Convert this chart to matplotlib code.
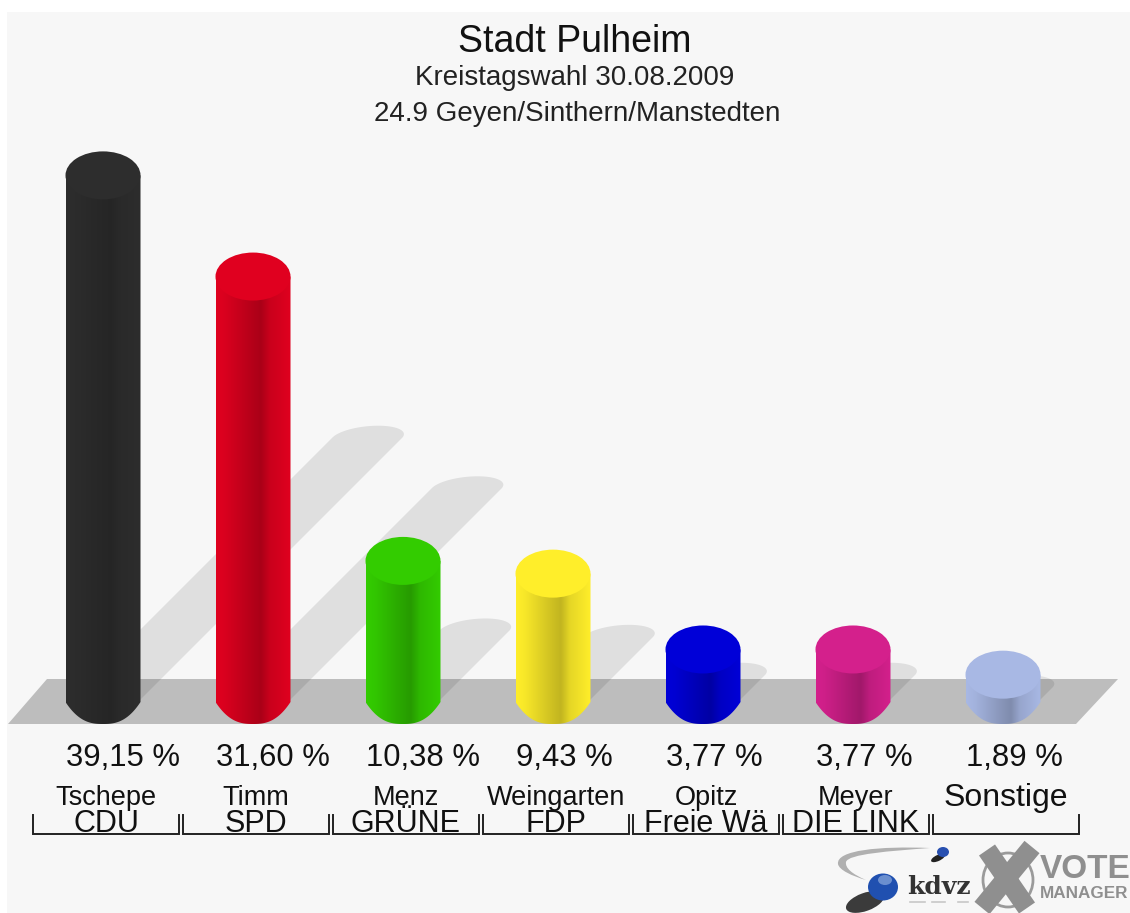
#!/usr/bin/env python3
import numpy as np
import matplotlib
matplotlib.use("Agg")
import matplotlib.pyplot as plt
from matplotlib.colors import to_rgb
from matplotlib.patches import Ellipse, Polygon, Rectangle, PathPatch
from matplotlib.path import Path

# Data
candidates = ["Tschepe", "Timm", "Menz", "Weingarten", "Opitz", "Meyer", "Sonstige"]
parties = ["CDU", "SPD", "GRÜNE", "FDP", "Freie Wä", "DIE LINK", ""]
shares = [39.15, 31.60, 10.38, 9.43, 3.77, 3.77, 1.89]
share_labels = ["39,15 %", "31,60 %", "10,38 %", "9,43 %", "3,77 %", "3,77 %", "1,89 %"]
colors = ["#2d2d2d", "#e0001f", "#33cc00", "#ffee2a", "#0000d8", "#d4208c", "#a8b8e4"]

BG = "#f7f7f7"
FLOOR = "#bdbdbd"
W, H = 1130, 913
BASE_Y = 700      # pixel row of the bar base centre
PX_PER_PCT = 13.4
X0, DX = 103, 150  # first bar centre, bar spacing in pixels
BAR_W, CAP_H = 75, 48


def ellipse_points(cx, cy, w, h, shear=0.0):
    t = np.linspace(0, 2 * np.pi, 80)
    ex = w / 2 * np.cos(t)
    ey = h / 2 * np.sin(t)
    return np.column_stack([cx + ex + shear * ey, cy + ey])


def hull(points):
    # Monotone chain, for the shape swept by the shadow ellipse
    pts = sorted(map(tuple, points))
    def half(seq):
        out = []
        for p in seq:
            while len(out) > 1 and ((out[-1][0] - out[-2][0]) * (p[1] - out[-2][1])
                                    - (out[-1][1] - out[-2][1]) * (p[0] - out[-2][0])) <= 0:
                out.pop()
            out.append(p)
        return out[:-1]
    return np.array(half(pts) + half(pts[::-1]))


def draw_shadow(ax, cx, height):
    rise = height * 0.5
    run = rise * 1.0
    a = ellipse_points(cx + 2, BASE_Y, 70, 24, shear=-0.9)
    b = ellipse_points(cx + 2 + run, BASE_Y - rise, 70, 24, shear=-0.9)
    ax.add_patch(Polygon(hull(np.vstack([a, b])), closed=True, fc="black", ec="none",
                         alpha=0.095, zorder=2))


def draw_bar(ax, cx, height, color):
    top = BASE_Y - height
    left, right = cx - BAR_W / 2, cx + BAR_W / 2
    rgb = np.array(to_rgb(color))

    # Body outline: straight sides with a slightly pointed bottom
    u = np.linspace(1, -1, 80)
    bottom = np.column_stack([cx + BAR_W / 2 * u, BASE_Y + 2 + (CAP_H / 2 - 2) * (1 - np.abs(u) ** 2.6)])
    body = np.vstack([[[right, top]], bottom, [[left, top]]])
    clip = Polygon(body, closed=True, transform=ax.transData)

    # Horizontal shading, darkest just past the middle of the bar
    s = np.linspace(0, 1, 150)
    shade = np.interp(s, [0, 0.12, 0.5, 0.6, 0.72, 1], [1.0, 0.97, 0.80, 0.76, 0.90, 1.0])
    if color == "#2d2d2d":
        shade = 1 - (1 - shade) * 0.7
    grad = (rgb[None, :] * shade[:, None])[None, :, :]
    img = ax.imshow(grad, extent=(left, right, BASE_Y + CAP_H / 2, top), aspect="auto",
                    interpolation="bilinear", zorder=3)
    img.set_clip_path(clip)

    # Flat top cap
    ax.add_patch(Ellipse((cx, top), BAR_W, CAP_H, fc=color, ec="none", zorder=4))


def draw_logos(ax):
    # kdvz swoosh
    swoosh = Path([(930, 848), (880, 846), (836, 850), (838, 864), (839, 870), (852, 876), (866, 880),
                   (852, 874), (845, 868), (846, 862), (848, 854), (890, 851), (930, 848)],
                  [Path.MOVETO] + [Path.CURVE4] * 12)
    ax.add_patch(PathPatch(swoosh, fc="#b0b0b0", ec="none", zorder=5))
    # small and large ball, with their dark shadows
    ax.add_patch(Ellipse((938, 858), 15, 6, angle=-25, fc="#222222", ec="none", zorder=5))
    ax.add_patch(Ellipse((943, 852), 12, 10, fc="#2850b0", ec="none", zorder=6))
    ax.add_patch(Ellipse((865, 902), 40, 18, angle=-20, fc="#1a1a1a", ec="none", alpha=0.85, zorder=5))
    ax.add_patch(Ellipse((883, 887), 30, 27, fc="#2050b0", ec="none", zorder=6))
    ax.add_patch(Ellipse((885, 880), 14, 10, fc="#7f9fd8", ec="none", alpha=0.8, zorder=7))
    ax.text(939, 887, "kdvz", family="DejaVu Serif", weight="bold", fontsize=18,
            color="#333333", ha="center", va="center", zorder=6)
    ax.plot([910, 925], [902, 902], color="#c8c8c8", lw=1.2, zorder=6)
    ax.plot([932, 945], [902, 902], color="#c8c8c8", lw=1.2, zorder=6)
    ax.plot([958, 968], [902, 902], color="#c8c8c8", lw=1.2, zorder=6)
    # Cross mark
    ax.add_patch(Ellipse((1008, 880), 50, 54, fc="none", ec="#9a9a9a", lw=2, zorder=5))
    ax.plot([987, 1027], [850, 908], color="#8f8f8f", lw=14, solid_capstyle="butt", zorder=6)
    ax.plot([1032, 982], [847, 908], color="#8f8f8f", lw=14, solid_capstyle="butt", zorder=6)
    ax.text(1040, 869, "VOTE", family="Liberation Sans", weight="bold", fontsize=24,
            color="#8f8f8f", ha="left", va="center", zorder=6, clip_on=True)
    ax.text(1040, 894, "MANAGER", family="Liberation Sans", weight="bold", fontsize=12.3,
            color="#8f8f8f", ha="left", va="center", zorder=6, clip_on=True)


def main() -> None:
    fig = plt.figure(figsize=(W / 100, H / 100), dpi=100, facecolor="white")
    ax = fig.add_axes([0, 0, 1, 1])
    ax.set_xlim(0, W)
    ax.set_ylim(H, 0)
    ax.axis("off")
    plt.rcParams["font.family"] = "Liberation Sans"

    ax.add_patch(Rectangle((7, 12), W - 7, H - 12, fc=BG, ec="none", zorder=0))
    ax.add_patch(Polygon([(8, 724), (47, 679), (1118, 679), (1076, 724)], closed=True,
                         fc=FLOOR, ec="none", zorder=1))

    for i, (share, color) in enumerate(zip(shares, colors)):
        cx = X0 + i * DX
        height = share * PX_PER_PCT
        draw_shadow(ax, cx, height)
        draw_bar(ax, cx, height, color)

        ax.text(cx - 37, 758, share_labels[i], fontsize=22.3, color="#111111", ha="left", va="center")
        if parties[i]:
            ax.text(cx + 3, 798, candidates[i], fontsize=19.5, color="#111111", ha="center", va="center")
            ax.text(cx + 3, 824, parties[i], fontsize=22, color="#111111", ha="center", va="center")
        else:
            ax.text(cx + 3, 798, candidates[i], fontsize=23, color="#111111", ha="center", va="center")

        # Bracket under each column
        lx, rx = 33 + i * DX, 178.5 + i * DX
        ax.plot([lx, lx, rx, rx], [815, 834, 834, 815], color="#222222", lw=1.4,
                solid_joinstyle="miter", zorder=5)

    ax.text(575, 42, "Stadt Pulheim", fontsize=27, color="#111111", ha="center", va="center")
    ax.text(575, 78, "Kreistagswahl 30.08.2009", fontsize=20, color="#222222", ha="center", va="center")
    ax.text(577, 114, "24.9 Geyen/Sinthern/Manstedten", fontsize=20, color="#222222", ha="center", va="center")

    draw_logos(ax)

    ax.set_xlim(0, W)
    ax.set_ylim(H, 0)
    fig.savefig("out.png", dpi=100, facecolor="white")


if __name__ == '__main__':
    main()
